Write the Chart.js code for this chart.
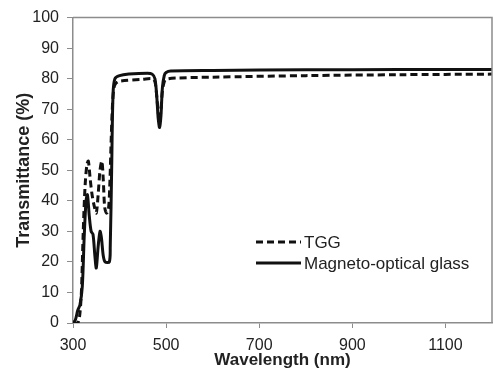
<!DOCTYPE html>
<html>
<head>
<meta charset="utf-8">
<script src="https://cdn.jsdelivr.net/npm/chart.js@4/dist/chart.umd.min.js"></script>
<style>
  html, body { margin: 0; padding: 0; background: #fff; }
  #wrap { width: 493px; height: 370px; }
</style>
</head>
<body>
<div id="wrap"><canvas id="chart" width="493" height="370"></canvas></div>
<script>
// spectra
const tggWavelength = [300, 310, 314, 318, 322, 326, 330, 333, 337, 341, 346, 350, 354, 358, 362, 365, 368, 372, 376, 379, 382, 385, 388, 392, 400, 450, 470, 476, 480, 483, 486, 489, 492, 496, 500, 520, 600, 800, 1000, 1200];
const tggValues = [0, 0, 2, 10, 30, 45, 52, 53, 47, 42, 38, 36, 42, 50, 53, 47, 38, 36, 37, 45, 60, 72, 77, 78.5, 79.2, 79.8, 80, 79, 74, 69, 66, 70, 76, 79, 79.8, 80.2, 80.5, 81, 81.3, 81.5];
const glassWavelength = [300, 305, 310, 315, 320, 324, 328, 331, 335, 339, 343, 347, 350, 354, 358, 361, 365, 369, 378, 380, 383, 386, 390, 400, 420, 460, 470, 476, 480, 483, 486, 489, 492, 496, 500, 510, 600, 800, 1000, 1200];
const glassValues = [0, 1, 4, 6, 12, 28, 40, 42, 35, 30, 29, 22, 18, 25, 30, 28, 22, 20, 20, 25, 50, 75, 80, 81, 81.5, 81.8, 81.5, 80, 74, 67, 64, 68, 77, 81, 82, 82.5, 82.7, 82.9, 83, 83];
const xTicks = [300, 500, 700, 900, 1100];
const yTicks = [0, 10, 20, 30, 40, 50, 60, 70, 80, 90, 100];

const FONT = "'Liberation Sans', Arial, sans-serif";

function toPoints(xs, ys) {
  return xs.map((x, i) => ({ x: x, y: ys[i] }));
}

// legend + top/right frame drawn by hand
const framePlugin = {
  id: "frame",
  afterDraw(chart) {
    const c = chart.ctx, a = chart.chartArea;
    c.save();
    c.strokeStyle = "#8c8c8c";
    c.lineWidth = 1.5;
    c.beginPath();
    c.moveTo(a.left, a.top);
    c.lineTo(a.right, a.top);
    c.lineTo(a.right, a.bottom);
    c.stroke();

    const rows = [242, 263];
    chart.data.datasets.forEach((ds, i) => {
      c.strokeStyle = "#111";
      c.lineWidth = 3;
      c.setLineDash(ds.borderDash || []);
      c.beginPath();
      c.moveTo(256, rows[i]);
      c.lineTo(301, rows[i]);
      c.stroke();
      c.setLineDash([]);
      c.fillStyle = "#222";
      c.font = "17px " + FONT;
      c.textBaseline = "middle";
      c.fillText(ds.label, 304, rows[i] + 1);
    });
    c.restore();
  }
};

const ctx = document.getElementById("chart").getContext("2d");
new Chart(ctx, {
  type: "line",
  data: {
    datasets: [{
      label: "TGG",
      data: toPoints(tggWavelength, tggValues),
      borderColor: "#111",
      borderWidth: 3,
      borderDash: [7, 4],
      pointRadius: 0,
      tension: 0.3,
      fill: false
    }, {
      label: "Magneto-optical glass",
      data: toPoints(glassWavelength, glassValues),
      borderColor: "#111",
      borderWidth: 3,
      pointRadius: 0,
      tension: 0.3,
      fill: false
    }]
  },
  options: {
    responsive: false,
    animation: false,
    layout: { padding: { top: 15, right: 1, left: 0, bottom: 0 } },
    plugins: {
      legend: { display: false },
      tooltip: { enabled: false }
    },
    scales: {
      x: {
        type: "linear",
        min: 300,
        max: 1200,
        afterBuildTicks: (axis) => { axis.ticks = xTicks.map(v => ({ value: v })); },
        afterFit: (axis) => { axis.height = 47; },
        grid: { display: true, drawOnChartArea: false, tickLength: 5, color: "#8c8c8c", lineWidth: 1 },
        border: { color: "#8c8c8c", width: 1.5 },
        ticks: { color: "#222", font: { family: FONT, size: 16 }, padding: 8, maxRotation: 0, callback: (v) => String(v) },
        title: { display: true, text: "Wavelength (nm)", color: "#222", font: { family: FONT, size: 17, weight: "bold" }, padding: { top: 0, bottom: -1 } }
      },
      y: {
        min: 0,
        max: 100,
        afterBuildTicks: (axis) => { axis.ticks = yTicks.map(v => ({ value: v })); },
        afterFit: (axis) => { axis.width = 73; },
        grid: { display: true, drawOnChartArea: false, tickLength: 6, color: "#8c8c8c", lineWidth: 1 },
        border: { color: "#8c8c8c", width: 1.5 },
        ticks: { color: "#222", font: { family: FONT, size: 16 }, padding: 8, callback: (v) => String(v) },
        title: { display: true, text: "Transmittance (%)", color: "#222", font: { family: FONT, size: 18, weight: "bold" }, padding: { top: 13, bottom: 0 } }
      }
    }
  },
  plugins: [framePlugin]
});
</script>
</body>
</html>
